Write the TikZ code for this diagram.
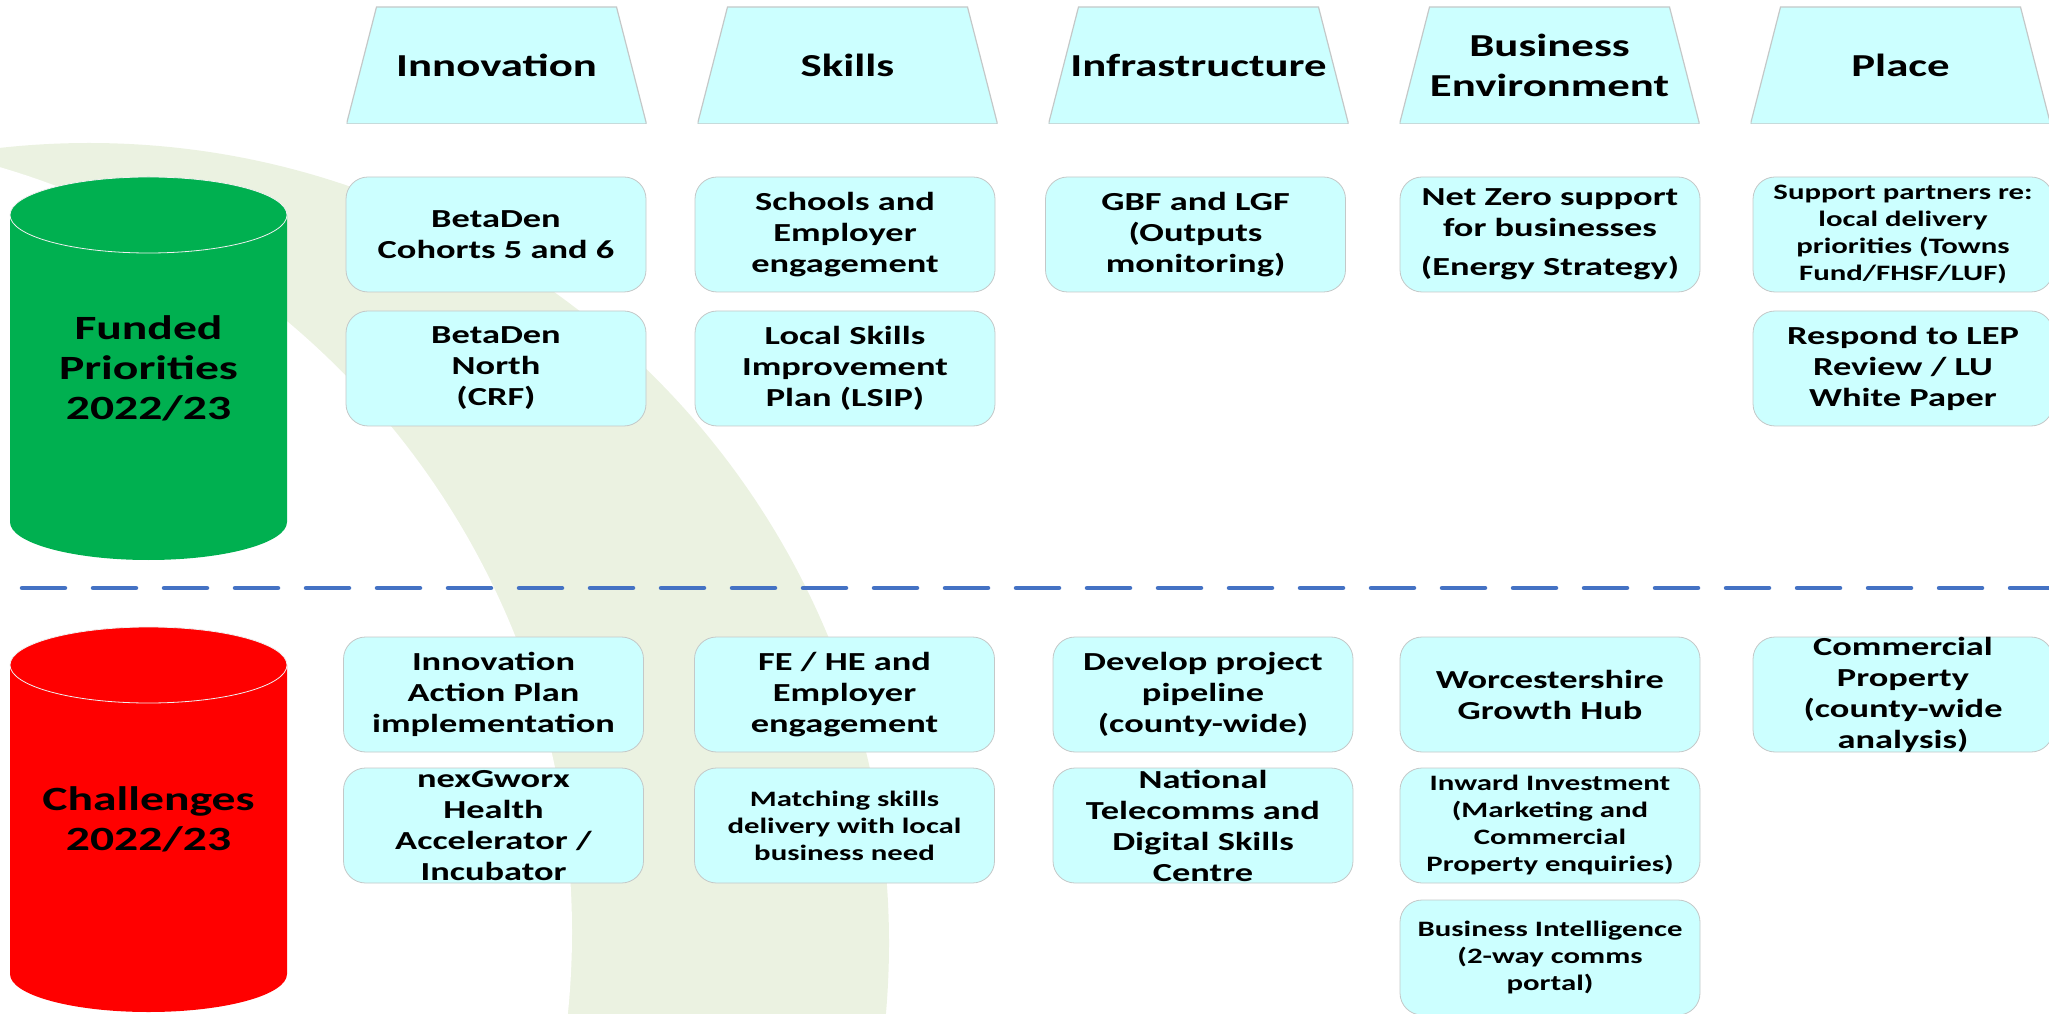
\documentclass[tikz,border=0pt]{standalone}
\usepackage{fontspec}
\setmainfont{Carlito}[FakeStretch=1.4]
\usetikzlibrary{positioning}

\definecolor{boxfill}{RGB}{204,255,255}
\definecolor{boxline}{RGB}{196,200,200}
\definecolor{fundgreen}{RGB}{0,176,80}
\definecolor{challred}{RGB}{255,0,0}
\definecolor{swoosh}{RGB}{235,242,225}
\definecolor{sepblue}{RGB}{68,114,196}

\tikzset{box/.style={draw=boxline,fill=boxfill,line width=0.8pt,rounded corners=22pt,
  inner sep=0pt,minimum width=300pt,minimum height=115pt,
  font=\bfseries\fontsize{26}{31}\selectfont,
  execute at begin node={\begin{minipage}[c][115pt][c]{300pt}\centering},
  execute at end node={\end{minipage}}}}
\tikzset{sbox/.style={box,font=\bfseries\fontsize{22}{27}\selectfont}}
\tikzset{head/.style={minimum width=300pt,minimum height=117pt,inner sep=0pt,align=center,
  font=\bfseries\fontsize{32}{40}\selectfont,
  path picture={\filldraw[draw=boxline,fill=boxfill,line width=1.2pt]
    ([xshift=30pt]path picture bounding box.north west)
    -- ([xshift=-30pt]path picture bounding box.north east)
    -- (path picture bounding box.south east)
    -- (path picture bounding box.south west) -- cycle;}}}
\tikzset{drumtext/.style={align=center,font=\bfseries\fontsize{34}{40}\selectfont}}
\tikzset{capline/.style={draw=white!88!gray,line width=0.8pt}}
\tikzset{sepline/.style={draw=sepblue,line width=4.5pt,line cap=round,dash pattern=on 43pt off 28pt}}

\begin{document}
\begin{tikzpicture}[x=1pt,y=1pt]
\useasboundingbox (0,0) rectangle (2049,1013);
\clip (0,0) rectangle (2049,1013);

% background swoosh
\fill[swoosh] (89,70) circle[radius=800pt];
\fill[white] (-225,81) circle[radius=797pt];

% cylinders
\fill[fundgreen] (10,798) -- (10,491) arc[start angle=180,end angle=360,x radius=138.5pt,y radius=38pt]
  -- (287,798) arc[start angle=0,end angle=180,x radius=138.5pt,y radius=38pt] -- cycle;
\draw[capline] (148.5,798) ellipse[x radius=138.5pt,y radius=38pt];
\node[drumtext] (funded) at (148.5,644.5) {Funded\\Priorities\\2022/23};

\fill[challred] (10,348) -- (10,39) arc[start angle=180,end angle=360,x radius=138.5pt,y radius=38pt]
  -- (287,348) arc[start angle=0,end angle=180,x radius=138.5pt,y radius=38pt] -- cycle;
\draw[capline] (148.5,348) ellipse[x radius=138.5pt,y radius=38pt];
\node[drumtext] (challenges) at (148.5,193.5) {Challenges\\2022/23};

% separator
\coordinate (sepL) at (22,425);
\coordinate (sepR) at (2060,425);
\draw[sepline] (sepL) -- (sepR);

\begin{scope}[on grid]
% column heads
\node[head] (hinn) at (496.5,947.5) {Innovation};
\node[head,right=351pt of hinn] (hski) {Skills};
\node[head,right=351pt of hski] (hinf) {Infrastructure};
\node[head,right=351pt of hinf] (hbus) {Business\\Environment};
\node[head,right=351pt of hbus] (hpla) {Place};

% funded priorities
\node[box] (betaA) at (496,778.5) {BetaDen\\Cohorts 5 and 6};
\node[box,below=134pt of betaA] (betaB) {BetaDen\\North\\(CRF)};
\node[box] (schools) at (845,778.5) {Schools and\\Employer\\engagement};
\node[box,below=134pt of schools] (lsip) {Local Skills\\Improvement\\Plan (LSIP)};
\node[box] (gbf) at (1195.5,778.5) {GBF and LGF\\(Outputs\\monitoring)};
\node[box] (netzero) at (1550,778.5) {Net Zero support\\for businesses\\[8pt](Energy Strategy)};
\node[sbox] (towns) at (1903,778.5) {Support partners re:\\local delivery\\priorities (Towns\\Fund/FHSF/LUF)};
\node[box,below=134pt of towns] (lepreview) {Respond to LEP\\Review / LU\\White Paper};

% challenges
\node[box] (iap) at (493.5,318.5) {Innovation\\Action Plan\\implementation};
\node[box,below=131pt of iap] (nexg) {nexGworx\\Health\\Accelerator /\\Incubator};
\node[box] (fehe) at (844.5,318.5) {FE / HE and\\Employer\\engagement};
\node[sbox,below=131pt of fehe] (matching) {Matching skills\\delivery with local\\business need};
\node[box] (pipeline) at (1203,318.5) {Develop project\\pipeline\\(county-wide)};
\node[box,below=131pt of pipeline] (telecomms) {National\\Telecomms and\\Digital Skills\\Centre};
\node[box] (growthhub) at (1550,318.5) {Worcestershire\\Growth Hub};
\node[sbox,below=131pt of growthhub] (inward) {Inward Investment\\(Marketing and\\Commercial\\Property enquiries)};
\node[sbox,below=132pt of inward] (bizintel) {Business Intelligence\\(2-way comms\\portal)};
\node[box] (commprop) at (1903,318.5) {Commercial\\Property\\(county-wide\\analysis)};
\end{scope}
\end{tikzpicture}
\end{document}
